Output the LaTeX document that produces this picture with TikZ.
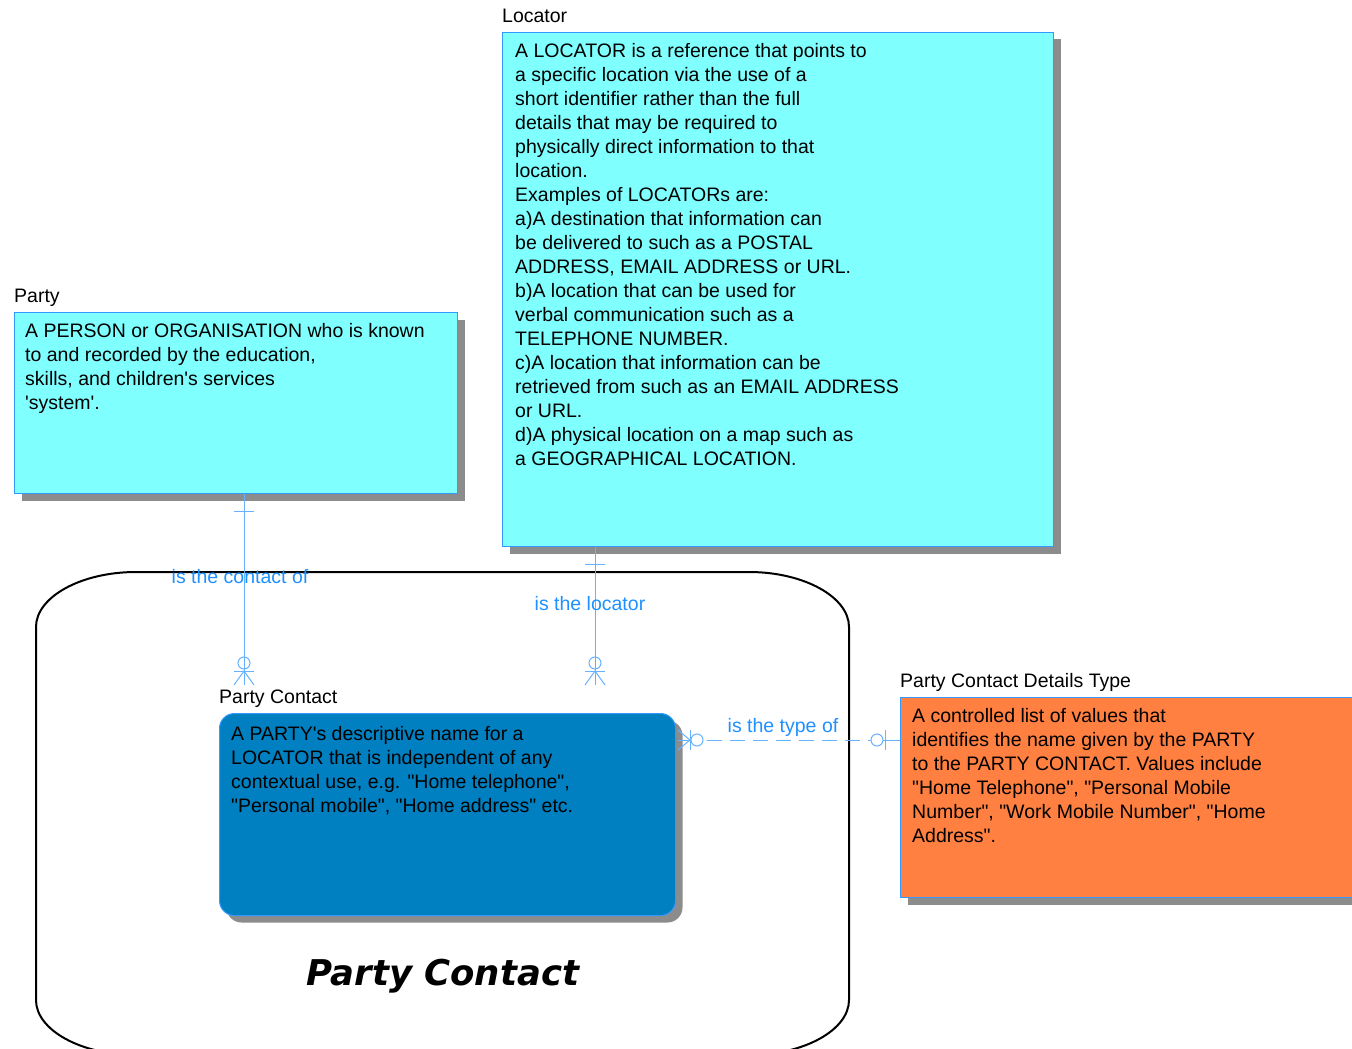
\documentclass[tikz,border=0pt]{standalone}
\usepackage{fontspec}
\setmainfont{Liberation Sans}[Ligatures=TeXOff]
\newfontfamily\headfont{DejaVu Sans}
\usepackage{xcolor}
\usepackage{tikz}
\usetikzlibrary{positioning,shadows}

\definecolor{entcyan}{RGB}{128,255,255}
\definecolor{entblue}{RGB}{0,128,192}
\definecolor{entorange}{RGB}{255,128,64}
\definecolor{entedge}{RGB}{51,153,255}
\definecolor{entshade}{RGB}{140,140,140}
\definecolor{relline}{RGB}{102,178,255}
\definecolor{reltext}{RGB}{30,144,255}

\begin{document}
\begin{tikzpicture}[x=1pt,y=-1pt,
  entity/.style={draw=entedge,line width=1pt,inner sep=0pt,anchor=north west,
    drop shadow={shadow xshift=7pt,shadow yshift=-7pt,fill=entshade,opacity=1}},
  desc/.style={inner sep=0pt,align=left,font=\fontsize{19.5}{24}\selectfont},
  lbl/.style={inner sep=0pt,text depth=4pt,font=\fontsize{19.5}{24}\selectfont},
  rel/.style={draw=relline,line width=1pt},
  reldash/.style={dash pattern=on 15pt off 8pt},
  rellbl/.style={inner sep=0pt,text=reltext,font=\fontsize{19.5}{24}\selectfont}]
\useasboundingbox (0,0) rectangle (1352,1049);
\clip (0,0) rectangle (1352,1049);

% subject area
\draw[line width=2pt] (36,627) .. controls (36,597) and (81,572) .. (136,572)
  -- (749,572) .. controls (804,572) and (849,597) .. (849,627)
  -- (849,1000) .. controls (849,1030) and (804,1055) .. (749,1055)
  -- (136,1055) .. controls (81,1055) and (36,1030) .. (36,1000) -- cycle;
\node[font=\headfont\bfseries\itshape\fontsize{35.5}{40}\selectfont] (title) at (443,976) {Party Contact};

% entities
\node[entity,fill=entcyan,minimum width=443pt,minimum height=181pt] (party) at (14,312) {};
\node[lbl,above right=5pt and 0pt of party.north west] (partylbl) {Party};
\node[desc,below right=11pt and 11pt of party.north west] (partytxt)
  {A PERSON or ORGANISATION who is known\\to and recorded by the education,\\skills, and children's services\\'system'.};

\node[entity,fill=entcyan,minimum width=551pt,minimum height=514pt] (locator) at (502,32) {};
\node[lbl,above right=5pt and 0pt of locator.north west] (locatorlbl) {Locator};
\node[desc,below right=11pt and 13pt of locator.north west] (locatortxt)
  {A LOCATOR is a reference that points to\\a specific location via the use of a\\short identifier rather than the full\\details that may be required to\\physically direct information to that\\location.\\Examples of LOCATORs are:\\a)A destination that information can\\be delivered to such as a POSTAL\\ADDRESS, EMAIL ADDRESS or URL.\\b)A location that can be used for\\verbal communication such as a\\TELEPHONE NUMBER.\\c)A location that information can be\\retrieved from such as an EMAIL ADDRESS\\or URL.\\d)A physical location on a map such as\\a GEOGRAPHICAL LOCATION.};

\node[entity,fill=entblue,rounded corners=15pt,minimum width=456pt,minimum height=202pt] (pcontact) at (219,713) {};
\node[lbl,above right=5pt and 0pt of pcontact.north west] (pcontactlbl) {Party Contact};
\node[desc,below right=13pt and 12pt of pcontact.north west] (pcontacttxt)
  {A PARTY's descriptive name for a\\LOCATOR that is independent of any\\contextual use, e.g. "Home telephone",\\"Personal mobile", "Home address" etc.};

\node[entity,fill=entorange,minimum width=470pt,minimum height=200pt] (dtype) at (900,697) {};
\node[lbl,above right=5pt and 0pt of dtype.north west] (dtypelbl) {Party Contact Details Type};
\node[desc,below right=11pt and 12pt of dtype.north west] (dtypetxt)
  {A controlled list of values that\\identifies the name given by the PARTY\\to the PARTY CONTACT. Values include\\"Home Telephone", "Personal Mobile\\Number", "Work Mobile Number", "Home\\Address".};

% party -- party contact
\coordinate (pc1) at (244,685);
\draw[rel] (party.south -| pc1) -- (pc1);
\draw[rel] (party.south -| pc1) ++(-10,17) -- ++(20,0);
\draw[rel] (pc1) ++(-10,0) -- ++(10,-14) -- ++(10,14);
\draw[rel] (pc1) ++(-10,-14) -- ++(20,0);
\draw[rel] (pc1) ++(0,-22) circle (6pt);
\node[rellbl] (pclbl) at (240,577) {is the contact of};

% locator -- party contact
\coordinate (lc1) at (595,685);
\draw[rel] (locator.south -| lc1) -- (lc1);
\draw[rel] (locator.south -| lc1) ++(-10,17) -- ++(20,0);
\draw[rel] (lc1) ++(-10,0) -- ++(10,-14) -- ++(10,14);
\draw[rel] (lc1) ++(-10,-14) -- ++(20,0);
\draw[rel] (lc1) ++(0,-22) circle (6pt);
\node[rellbl] (lclbl) at (590,604) {is the locator};

% details type -- party contact
\coordinate (tc1) at (678,740);
\coordinate (tc2) at (tc1 -| dtype.west);
\draw[rel] (tc1) -- ++(12,0);
\draw[rel] (tc1) ++(0,-10) -- ++(12,10) -- ++(-12,10);
\draw[rel] (tc1) ++(12,-10) -- ++(0,20);
\draw[rel] (tc1) ++(19,0) circle (6pt);
\draw[rel,reldash] ([xshift=29pt]tc1) -- ([xshift=-29pt]tc2);
\draw[rel] (tc2) ++(-23,0) circle (6pt);
\draw[rel] (tc2) ++(-15,-10) -- ++(0,20);
\draw[rel] (tc2) -- ++(-17,0);
\node[rellbl] (tclbl) at (783,727) {is the type of};
\end{tikzpicture}
\end{document}
